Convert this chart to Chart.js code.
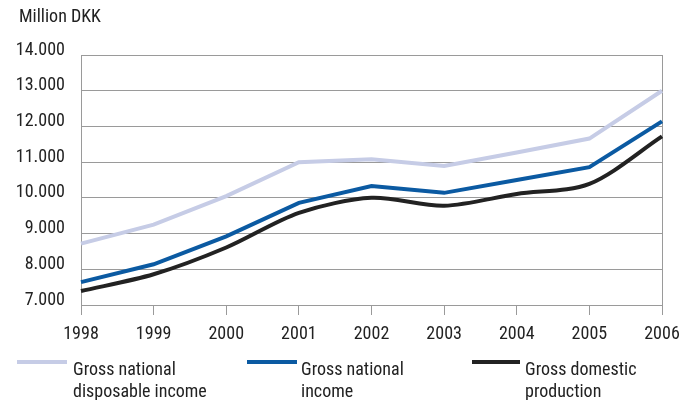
<!DOCTYPE html>
<html>
<head>
<meta charset="utf-8">
<script src="https://cdn.jsdelivr.net/npm/chart.js@4.4.1/dist/chart.umd.min.js"></script>
<style>
  body { margin: 0; background: #fff; font-family: "Roboto Condensed", sans-serif; }
  #wrap { position: relative; width: 696px; height: 400px; }
  #unit { position: absolute; left: 19px; top: 5px; font-size: 18px; line-height: 22px; color: #222; }
  .leg { position: absolute; top: 358px; font-size: 18px; color: #222; line-height: 22px; white-space: nowrap; }
  .leg i { position: absolute; top: 2px; height: 4px; }
  .leg span { position: absolute; top: 0; }
</style>
</head>
<body>
<div id="wrap">
  <canvas id="myChart1" width="696" height="400"></canvas>
  <div id="unit">Million DKK</div>
  <div class="leg"><i style="background:#c6cce6;left:17px;width:50px"></i><span style="left:73px">Gross national<br>disposable income</span></div>
  <div class="leg"><i style="background:#0b5aa2;left:247px;width:50px"></i><span style="left:301px">Gross national<br>income</span></div>
  <div class="leg"><i style="background:#222222;left:472px;width:48px"></i><span style="left:525px">Gross domestic<br>production</span></div>
</div>
<script>
const ctx = document.getElementById("myChart1").getContext("2d");

const years = ["1998", "1999", "2000", "2001", "2002", "2003", "2004", "2005", "2006"];
const disposableIncome = [8720, 9250, 10050, 11000, 11080, 10890, 11270, 11660, 13000];
const nationalIncome = [7640, 8140, 8920, 9860, 10330, 10140, 10500, 10860, 12140];
const domesticProduction = [7390, 7860, 8610, 9580, 10000, 9780, 10110, 10390, 11720];

const font = { family: "'Roboto Condensed', sans-serif", size: 18 };

const data = {
  labels: years,
  datasets: [
    { label: "Gross national disposable income", data: disposableIncome, borderColor: "#c6cce6", borderWidth: 4, tension: 0 },
    { label: "Gross national income", data: nationalIncome, borderColor: "#0b5aa2", borderWidth: 4, tension: 0 },
    { label: "Gross domestic production", data: domesticProduction, borderColor: "#222222", borderWidth: 4, tension: 0.3 },
  ],
};

const config = {
  type: "line",
  data: data,
  options: {
    responsive: false,
    animation: false,
    layout: { padding: { left: 0, right: 34, top: 55, bottom: 55 } },
    elements: { point: { radius: 0 }, line: { borderCapStyle: "butt" } },
    plugins: { legend: { display: false }, tooltip: { enabled: false } },
    scales: {
      x: {
        offset: false,
        afterFit: (s) => { s.height = 40; },
        grid: {
          drawOnChartArea: true,
          color: (c) => (c.index === years.length - 1 ? "#9a9a9a" : "rgba(0,0,0,0)"),
          tickColor: "#9a9a9a",
          tickLength: 10,
        },
        border: { color: "#9a9a9a" },
        ticks: { color: "#222", font: font, padding: 9, maxRotation: 0 },
      },
      y: {
        min: 7000,
        max: 14000,
        afterFit: (s) => { s.width = 81; },
        grid: { color: "#9a9a9a", drawTicks: false },
        border: { color: "#9a9a9a" },
        ticks: {
          stepSize: 1000,
          color: "#222",
          font: font,
          padding: 16,
          labelOffset: -5,
          callback: (v) => v.toLocaleString("de-DE"),
        },
      },
    },
  },
};

const myChart1 = new Chart(ctx, config);
</script>
</body>
</html>
